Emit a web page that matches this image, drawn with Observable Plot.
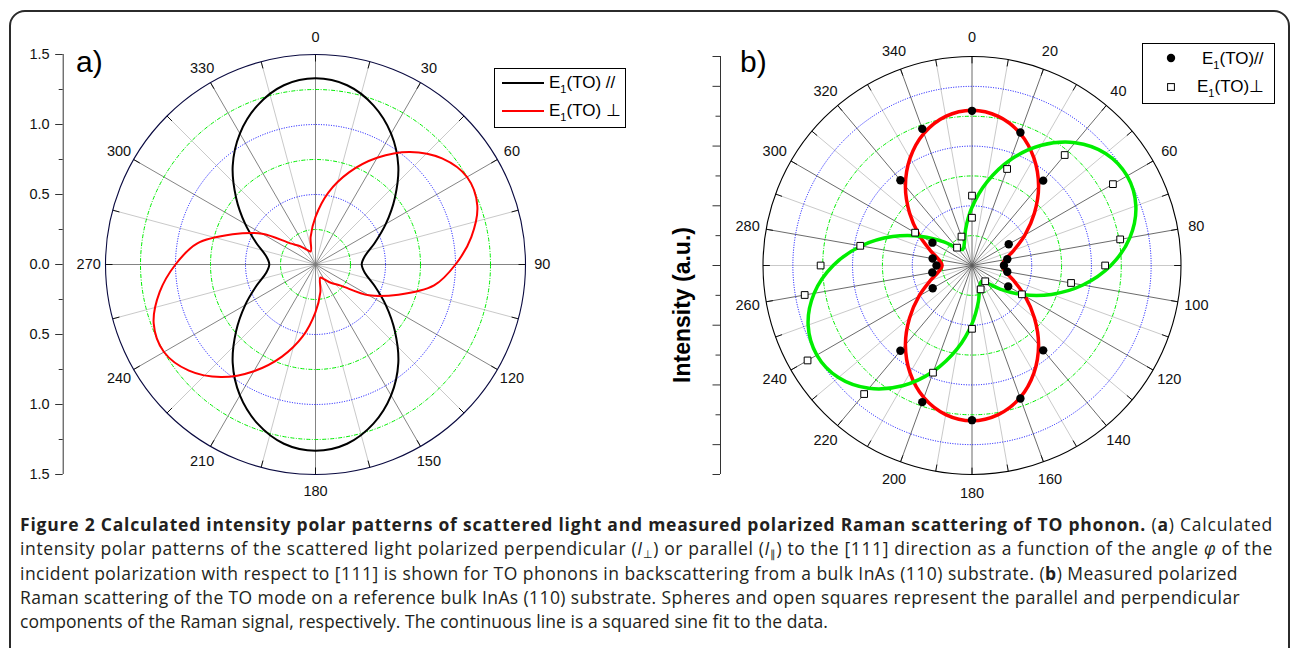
<!DOCTYPE html>
<html><head><meta charset="utf-8">
<script src="https://cdn.jsdelivr.net/npm/d3@7"></script>
<script src="https://cdn.jsdelivr.net/npm/@observablehq/plot@0.6"></script>
<style>
html,body{margin:0;padding:0;background:#fff;}
#wrap{position:relative;width:1293px;height:648px;overflow:hidden;font-family:"Liberation Sans",Arial,sans-serif;color:#000;}
#frame{position:absolute;left:9px;top:10px;width:1281px;height:670px;border:2px solid #2b2b2b;border-radius:16px;box-sizing:border-box;}
.panel{position:absolute;top:0;}
.panel svg{overflow:visible;}
.leg{position:absolute;border:1px solid #000;box-sizing:border-box;background:#fff;}
.leg .sw{position:absolute;}
.leg .tx{position:absolute;font-size:17px;line-height:20px;white-space:nowrap;}
.leg sub{font-size:11px;vertical-align:-5px;line-height:0;}
.tag{position:absolute;font-size:30px;line-height:30px;}
#ylab{position:absolute;left:681.5px;top:304.5px;transform:translate(-50%,-50%) rotate(-90deg);font-weight:bold;font-size:23px;line-height:23px;white-space:nowrap;}
#cap{position:absolute;left:20px;top:512px;font-family:"Open Sans",sans-serif;font-size:17.5px;line-height:24.3px;color:#231f20;}
#cap div{white-space:nowrap;height:24.3px;}
#cap sub{font-size:11px;line-height:0;vertical-align:-3px;}
</style></head><body>
<div id="wrap">
  <div id="frame"></div>
  <div id="pa" class="panel" style="left:0"></div>
  <div id="pb" class="panel" style="left:650px"></div>
  <div class="tag" style="left:76px;top:46.6px">a)</div>
  <div class="tag" style="left:740px;top:46.6px">b)</div>
  <div id="ylab">Intensity (a.u.)</div>
  <div class="leg" style="left:494px;top:68px;width:132px;height:60px">
    <svg class="sw" style="left:7px;top:12px" width="42" height="4"><line x1="0" y1="2" x2="42" y2="2" stroke="#000" stroke-width="2"/></svg>
    <div class="tx" style="left:54px;top:3.5px">E<sub>1</sub>(TO) //</div>
    <svg class="sw" style="left:7px;top:40px" width="42" height="4"><line x1="0" y1="2" x2="42" y2="2" stroke="#ff0000" stroke-width="2"/></svg>
    <div class="tx" style="left:54px;top:31.5px">E<sub>1</sub>(TO) ⊥</div>
  </div>
  <div class="leg" style="left:1142px;top:43px;width:133px;height:61px">
    <svg class="sw" style="left:22px;top:8px" width="12" height="12"><circle cx="6" cy="6" r="4.2" fill="#000"/></svg>
    <div class="tx" style="left:59px;top:4.5px">E<sub>1</sub>(TO)//</div>
    <svg class="sw" style="left:22px;top:37px" width="12" height="12"><rect x="2.6" y="2.6" width="6.8" height="6.8" fill="#fff" stroke="#000" stroke-width="1"/></svg>
    <div class="tx" style="left:54px;top:33px">E<sub>1</sub>(TO)⊥</div>
  </div>
  <div id="cap">
    <div><span><b>Figure 2 Calculated intensity polar patterns of scattered light and measured polarized Raman scattering of TO phonon.</b> (<b>a</b>) Calculated</span></div>
    <div><span>intensity polar patterns of the scattered light polarized perpendicular (<i>I</i><sub>⊥</sub>) or parallel (<i>I</i><sub>∥</sub>) to the [111] direction as a function of the angle <i>φ</i> of the</span></div>
    <div><span>incident polarization with respect to [111] is shown for TO phonons in backscattering from a bulk InAs (110) substrate. (<b>b</b>) Measured polarized</span></div>
    <div><span>Raman scattering of the TO mode on a reference bulk InAs (110) substrate. Spheres and open squares represent the parallel and perpendicular</span></div>
    <div><span>components of the Raman signal, respectively. The continuous line is a squared sine fit to the data.</span></div>
  </div>
</div>
<script>
// ---------- Panel a: calculated intensities (every 10 degrees) ----------
const anglesA = [0,10,20,30,40,50,60,70,80,90,100,110,120,130,140,150,160,170,180,190,200,210,220,230,240,250,260,270,280,290,300,310,320,330,340,350];
const parallelA = [1.33,1.30,1.21,1.08,0.92,0.74,0.58,0.45,0.36,0.33,0.36,0.45,0.58,0.74,0.92,1.08,1.21,1.30,1.33,1.30,1.21,1.08,0.92,0.74,0.58,0.45,0.36,0.33,0.36,0.45,0.58,0.74,0.92,1.08,1.21,1.30];
const perpA = [0.34,0.52,0.70,0.88,1.05,1.18,1.25,1.23,1.13,1.00,0.86,0.63,0.44,0.235,0.17,0.12,0.10,0.20,0.34,0.52,0.70,0.88,1.05,1.18,1.25,1.23,1.13,1.00,0.86,0.63,0.44,0.235,0.17,0.12,0.10,0.20];
const angleLabelsA = [0,30,60,90,120,150,180,210,240,270,300,330];
const axisTicksA = [-1.5,-1.0,-0.5,0.0,0.5,1.0,1.5];
const axisMinorA = [-1.25,-0.75,-0.25,0.25,0.75,1.25];
const ringsGreenA = [0.25,0.75,1.25];
const ringsBlueA = [0.5,1.0];

// ---------- Panel b: measured + fits ----------
const anglesB = [0,10,20,30,40,50,60,70,80,90,100,110,120,130,140,150,160,170,180,190,200,210,220,230,240,250,260,270,280,290,300,310,320,330,340,350];
const fitParallelB = [5.20,5.07,4.71,4.15,3.47,2.73,2.05,1.49,1.13,1.00,1.13,1.49,2.05,2.73,3.47,4.15,4.71,5.07,5.20,5.07,4.71,4.15,3.47,2.73,2.05,1.49,1.13,1.00,1.13,1.49,2.05,2.73,3.47,4.15,4.71,5.07];
const fitPerpB = [1.95,2.83,3.77,4.65,5.37,5.84,6.00,5.84,5.37,4.65,3.77,2.83,1.95,1.23,0.76,0.62,0.76,1.23,1.95,2.83,3.77,4.65,5.37,5.84,6.00,5.84,5.37,4.65,3.77,2.83,1.95,1.23,0.76,0.62,0.76,1.23];
const dotAnglesB = [0,20,40,60,80,90,100,120,140,160,180,200,220,240,260,270,280,300,320,340];
const dotParallelB = [5.18,4.74,3.71,1.42,1.20,1.07,1.20,1.40,3.71,4.74,5.18,4.87,3.73,1.52,1.35,1.19,1.34,1.53,3.73,4.87];
const sqAnglesB = [0,20,40,60,80,90,100,120,140,160,180,200,220,240,260,270,280,300,320,340,360];
const sqPerpB = [2.34,3.44,4.83,5.45,5.04,4.46,3.37,1.93,0.69,0.85,2.12,3.82,5.62,6.36,5.69,5.07,3.80,2.20,0.78,1.03,1.60];
const angleLabelsB = [0,20,40,60,80,100,120,140,160,180,200,220,240,260,280,300,320,340];
const axisMajorB = [-7,-6,-4,-2,0,2,4,6,7];
const axisMinorB = [-5,-3,-1,1,3,5];
const ringsGreenB = [1,3,5];
const ringsBlueB = [2,4,6];

const DEG = Math.PI / 180;
const px = (r, a) => r * Math.sin(a * DEG);
const py = (r, a) => r * Math.cos(a * DEG);
const polar = (angles, radii) => angles.map((a, i) => ({a, r: radii[i]}));

function polarGrid(R, step, majorEvery, tickLen, labelR, labels, outerStroke, greens, blues, fs, majorColor) {
  const spokes = d3.range(0, 360, step);
  const minor = spokes.filter(a => a % majorEvery !== 0);
  const major = spokes.filter(a => a % majorEvery === 0);
  return [
    Plot.link(minor, {x1: () => 0, y1: () => 0, x2: a => px(R, a), y2: a => py(R, a), stroke: "#c3c3c3", strokeWidth: 0.9}),
    Plot.link(major, {x1: () => 0, y1: () => 0, x2: a => px(R, a), y2: a => py(R, a), stroke: majorColor, strokeWidth: 0.9}),
    Plot.dot(greens, {x: () => 0, y: () => 0, r: d => d, fill: "none", stroke: "#00ee00", strokeWidth: 1, strokeDasharray: "4,1.5,1,1.5"}),
    Plot.dot(blues, {x: () => 0, y: () => 0, r: d => d, fill: "none", stroke: "#0000ff", strokeWidth: 1, strokeDasharray: "1,1.5"}),
    Plot.link(spokes, {x1: a => px(R, a), y1: a => py(R, a), x2: a => px(R - tickLen, a), y2: a => py(R - tickLen, a), stroke: "#111", strokeWidth: 1}),
    Plot.dot([R], {x: () => 0, y: () => 0, r: d => d, fill: "none", stroke: outerStroke, strokeWidth: 1.1}),
    Plot.text(labels, {x: a => px(labelR, a), y: a => py(labelR, a), text: a => String(a), fontSize: fs, fill: "#111"})
  ];
}

const font = "'Liberation Sans', Arial, sans-serif";

// Panel a
const plotA = Plot.plot({
  width: 650, height: 500,
  marginLeft: 105, marginRight: 125, marginTop: 54, marginBottom: 26,
  x: {domain: [-1.5, 1.5], axis: null},
  y: {domain: [-1.5, 1.5]},
  r: {type: "linear", domain: [0, 1.5], range: [0, 210]},
  style: {fontFamily: font, background: "transparent", overflow: "visible"},
  marks: [
    ...polarGrid(1.5, 15, 30, 0.05, 1.62, angleLabelsA, "#0a0a40", ringsGreenA, ringsBlueA, 14.5, "#767676"),
    Plot.line(polar(anglesA, parallelA), {x: d => px(d.r, d.a), y: d => py(d.r, d.a), curve: "catmull-rom-closed", stroke: "#000", strokeWidth: 2}),
    Plot.line(polar(anglesA, perpA), {x: d => px(d.r, d.a), y: d => py(d.r, d.a), curve: "catmull-rom-closed", stroke: "#ff0000", strokeWidth: 2}),
    Plot.ruleX([-1.5], {dx: -42.3, stroke: "#333", strokeWidth: 1}),
    Plot.axisY({ticks: axisTicksA, tickSize: 7.5, tickPadding: 6, dx: -42.3, label: null, fontSize: 14.5, tickFormat: d => Math.abs(d).toFixed(1), stroke: "#333", fill: "#111"}),
    Plot.axisY({ticks: axisMinorA, tickSize: 4, tickFormat: () => "", dx: -42.3, label: null, stroke: "#333"})
  ]
});
document.getElementById("pa").appendChild(plotA);

// Panel b
const plotB = Plot.plot({
  width: 643, height: 500,
  marginLeft: 112.5, marginRight: 112.5, marginTop: 56, marginBottom: 26,
  x: {domain: [-7, 7], axis: null},
  y: {domain: [-7, 7]},
  r: {type: "linear", domain: [0, 7], range: [0, 209]},
  style: {fontFamily: font, background: "transparent", overflow: "visible"},
  marks: [
    ...polarGrid(7, 10, 20, 0.23, 7.63, angleLabelsB, "#000", ringsGreenB, ringsBlueB, 14.5, "#5a5a5a"),
    Plot.line(polar(anglesB, fitParallelB), {x: d => px(d.r, d.a), y: d => py(d.r, d.a), curve: "catmull-rom-closed", stroke: "#ff0000", strokeWidth: 3.5}),
    Plot.line(polar(anglesB, fitPerpB), {x: d => px(d.r, d.a), y: d => py(d.r, d.a), curve: "catmull-rom-closed", stroke: "#00ee00", strokeWidth: 3.5}),
    Plot.dot(polar(sqAnglesB, sqPerpB), {x: d => px(d.r, d.a), y: d => py(d.r, d.a), symbol: "square", r: 3.8, fill: "#fff", stroke: "#000", strokeWidth: 1}),
    Plot.dot(polar(dotAnglesB, dotParallelB), {x: d => px(d.r, d.a), y: d => py(d.r, d.a), r: 4.2, fill: "#000"}),
    Plot.ruleX([-7], {dx: -42.5, stroke: "#333", strokeWidth: 1}),
    Plot.axisY({ticks: axisMajorB, tickSize: 7.5, tickFormat: () => "", dx: -42.5, label: null, stroke: "#333"}),
    Plot.axisY({ticks: axisMinorB, tickSize: 4.5, tickFormat: () => "", dx: -42.5, label: null, stroke: "#333"})
  ]
});
document.getElementById("pb").appendChild(plotB);

// Fit each caption line to the width it occupies in the original figure
const captionLineWidths = [1253, 1253, 1218, 1220, 808];
document.querySelectorAll("#cap span").forEach((span, i) => {
  const w = span.getBoundingClientRect().width;
  const n = span.textContent.length;
  span.style.letterSpacing = ((captionLineWidths[i] - w) / n).toFixed(3) + "px";
});
</script>
</body></html>
